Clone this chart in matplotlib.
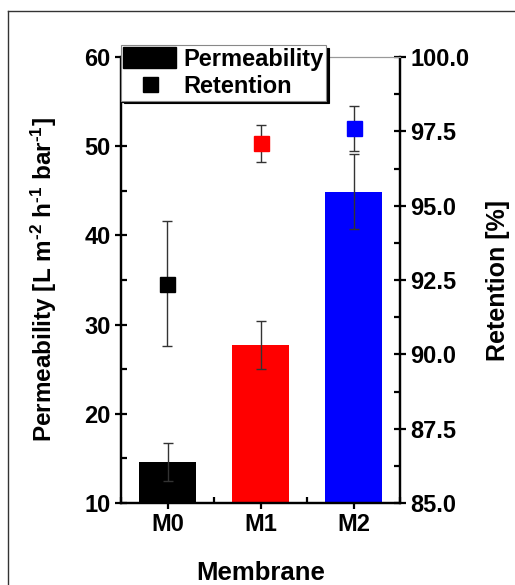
import matplotlib
matplotlib.use("Agg")
import matplotlib.pyplot as plt
from matplotlib.lines import Line2D
from matplotlib.patches import Patch
from matplotlib.ticker import MultipleLocator, FormatStrFormatter

membranes = ["M0", "M1", "M2"]
permeability = [14.6, 27.7, 44.9]
perm_err = [2.1, 2.65, 4.2]
retention = [92.37, 97.1, 97.6]
ret_err = [2.1, 0.62, 0.75]
colors = ["black", "red", "blue"]

plt.rcParams['font.family'] = ['Liberation Sans', 'DejaVu Sans']
plt.rcParams['font.weight'] = 'bold'
plt.rcParams['axes.labelweight'] = 'bold'
plt.rcParams['mathtext.fontset'] = 'custom'
plt.rcParams['mathtext.rm'] = 'Liberation Sans:bold'
plt.rcParams['mathtext.bf'] = 'Liberation Sans:bold'
plt.rcParams['mathtext.it'] = 'Liberation Sans:bold'
plt.rcParams['mathtext.default'] = 'rm'

fig = plt.figure(figsize=(5.15, 5.85), dpi=100)
ax = fig.add_axes([121/515, 1-503/585, (400-121)/515, (503-57)/585])
ax2 = ax.twinx()

x = list(range(len(membranes)))
ax.bar(x, permeability, width=0.61, color=colors, zorder=2)
ax.errorbar(x, permeability, yerr=perm_err, fmt='none', ecolor='#333333',
            elinewidth=1.0, capsize=3.6, capthick=1.0, zorder=3)
for xi, r, e, c in zip(x, retention, ret_err, colors):
    ax2.errorbar(xi, r, yerr=e, fmt='s', color=c, ms=10.8, mec=c,
                 ecolor='#333333', elinewidth=1.0, capsize=3.6, capthick=1.0)

ax.set_xlim(-0.5, 2.5)
ax.set_ylim(10, 60)
ax2.set_ylim(85, 100)

ax.set_xticks(x)
ax.set_xticklabels(membranes)
ax.xaxis.set_minor_locator(MultipleLocator(0.5))
ax.yaxis.set_major_locator(MultipleLocator(10))
ax.yaxis.set_minor_locator(MultipleLocator(5))
ax2.yaxis.set_major_locator(MultipleLocator(2.5))
ax2.yaxis.set_minor_locator(MultipleLocator(1.25))
ax2.yaxis.set_major_formatter(FormatStrFormatter('%.1f'))

fs = 17
for a in (ax, ax2):
    a.tick_params(which='major', direction='inout', length=9, width=1.6,
                  labelsize=fs, pad=3)
    a.tick_params(which='minor', direction='in', length=4, width=1.6)
ax.tick_params(axis='x', which='minor', length=4)
ax.tick_params(top=False, which='both')
ax2.tick_params(top=False, which='both')

for a in (ax, ax2):
    for s in ('left', 'right', 'bottom'):
        a.spines[s].set_linewidth(1.6)
    a.spines['top'].set_linewidth(0.8)
    a.spines['top'].set_color('#999999')

ax.set_xlabel("Membrane", fontsize=18.5, labelpad=18)
ax.set_ylabel(r"Permeability [L m$^{\text{-2}}$ h$^{\text{-1}}$ bar$^{\text{-1}}$]",
              fontsize=17.5, labelpad=18)
ax2.set_ylabel("Retention [%]", fontsize=18, labelpad=12)

handles = [Patch(facecolor='black', edgecolor='black'),
           Line2D([], [], marker='s', color='black', ls='none', ms=10.8)]
leg = ax2.legend(handles, ["Permeability", "Retention"], loc='upper left',
                 bbox_to_anchor=(0.0, 1.027), borderaxespad=0, fontsize=fs,
                 frameon=True, fancybox=False, edgecolor='#888888',
                 shadow={'color': 'black', 'alpha': 1}, framealpha=1,
                 handlelength=2.25, handleheight=1.0, handletextpad=0.3,
                 labelspacing=0.15, borderpad=0.1)
leg.get_frame().set_linewidth(0.8)

# outer frame
fig.add_artist(Line2D([8/515, 8/515], [0, 1-11/585], color='#333333', lw=1.0))
fig.add_artist(Line2D([8/515, 1], [1-11/585, 1-11/585], color='#333333', lw=1.0))

fig.savefig("out.png", dpi=100)
